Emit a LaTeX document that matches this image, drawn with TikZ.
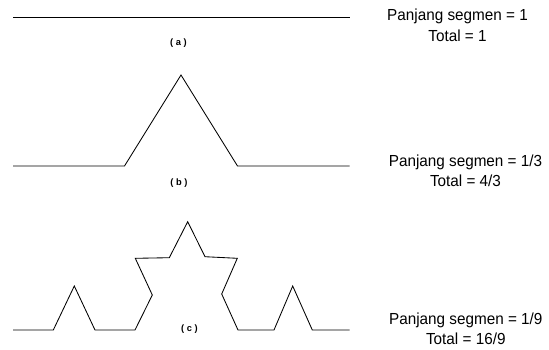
\documentclass[tikz,border=0pt]{standalone}
\usepackage{fontspec}
\setmainfont{Liberation Sans}
\newfontfamily\infofont[FakeStretch=0.955]{Liberation Sans}
\begin{document}
\begin{tikzpicture}[x=1pt,y=-1pt,
  curve/.style={line width=0.85pt, line join=miter},
  info/.style={anchor=base, inner sep=0pt, font=\infofont\fontsize{16}{18}\selectfont},
  tag/.style={anchor=center, inner sep=0pt, font=\fontsize{9.3}{10}\selectfont\bfseries}]
\useasboundingbox (0,0) rectangle (549,349);
% (a)
\draw[curve] (13,17.5) -- (349.5,17.5);
\node[tag] (la) at (178.5,43) {(\ a\ )};
\node[info] (pa) at (457.5,20.8) {Panjang segmen = 1};
\node[info] (ta) at (457.5,41) {Total = 1};
% (b)
\draw[curve] (13,166) -- (124.5,166) -- (181,75) -- (237.5,166) -- (349.5,166);
\node[tag] (lb) at (179,183) {(\ b\ )};
\node[info] (pb) at (465.5,166.5) {Panjang segmen = 1/3};
\node[info] (tb) at (465.5,186.5) {Total = 4/3};
% (c)
\draw[curve] (13,330) -- (53.3,330) -- (74.3,286) -- (95,330) -- (135,330)
  -- (152.3,295) -- (135.3,258.3) -- (169.3,257.7) -- (187.7,221.7)
  -- (205,256.7) -- (237.3,258.3) -- (221.7,294) -- (238,330)
  -- (274,330) -- (292.7,286) -- (312.3,330) -- (349.5,330);
\node[tag] (lc) at (189.5,329) {(\ c\ )};
\node[info] (pc) at (465.8,324) {Panjang segmen = 1/9};
\node[info] (tc) at (465.8,344) {Total = 16/9};
\end{tikzpicture}
\end{document}
